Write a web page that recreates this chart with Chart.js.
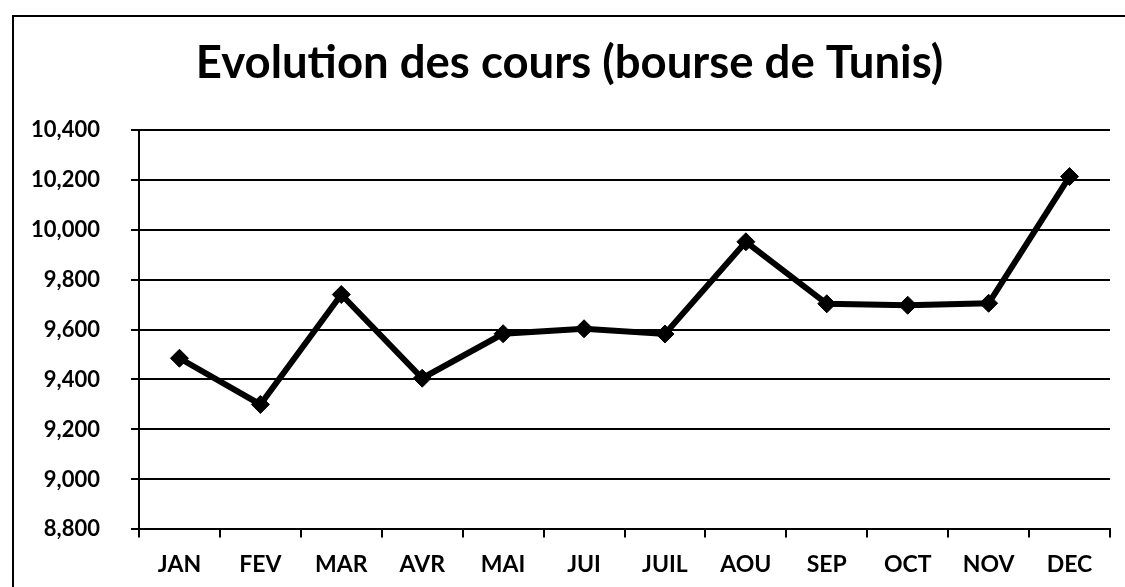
<!DOCTYPE html>
<html>
<head>
<meta charset="utf-8">
<script src="https://cdn.jsdelivr.net/npm/chart.js@4.4.0/dist/chart.umd.min.js"></script>
<style>
  html, body { margin: 0; padding: 0; background: #ffffff; }
  #wrap { position: relative; width: 1125px; height: 587px; }
</style>
</head>
<body>
<div id="wrap"><canvas id="c" width="1125" height="587"></canvas></div>
<script>
const chartTitle = "Evolution des cours (bourse de Tunis)";
const categories = ["JAN", "FEV", "MAR", "AVR", "MAI", "JUI", "JUIL", "AOU", "SEP", "OCT", "NOV", "DEC"];
const coursValues = [9485, 9300, 9740, 9405, 9583, 9603, 9582, 9951, 9703, 9697, 9705, 10212];
const yMin = 8800;
const yMax = 10400;
const yStep = 200;

const framePlugin = {
  id: 'frame',
  beforeDraw(chart) {
    const ctx = chart.ctx;
    ctx.save();
    ctx.fillStyle = '#ffffff';
    ctx.fillRect(0, 0, chart.width, chart.height);
    ctx.strokeStyle = '#000000';
    ctx.lineWidth = 2;
    ctx.strokeRect(13, 16, 1120, 600);
    ctx.restore();
  }
};

new Chart(document.getElementById('c'), {
  type: 'line',
  data: {
    labels: categories,
    datasets: [{
      label: 'Cours',
      data: coursValues,
      borderColor: '#000000',
      backgroundColor: '#000000',
      borderWidth: 6,
      pointStyle: 'rectRot',
      pointRadius: 9,
      pointBorderWidth: 1,
      pointBackgroundColor: '#000000',
      pointBorderColor: '#000000',
      tension: 0,
      fill: false
    }]
  },
  options: {
    responsive: false,
    animation: false,
    devicePixelRatio: 1,
    layout: { padding: { left: 29, right: 15, top: 0, bottom: -4 } },
    plugins: {
      legend: { display: false },
      tooltip: { enabled: false },
      title: {
        display: true,
        text: chartTitle,
        color: '#000000',
        font: { family: 'Lato', weight: 'bold', size: 45.5 },
        padding: { top: 36, bottom: 39 }
      }
    },
    scales: {
      x: {
        offset: true,
        grid: {
          offset: true,
          drawOnChartArea: false,
          drawTicks: true,
          tickLength: 8,
          color: '#000000',
          lineWidth: 2
        },
        border: { display: true, color: '#000000', width: 2 },
        ticks: {
          color: '#000000',
          font: { family: 'Lato', weight: 'bold', size: 23 },
          padding: 13,
          maxRotation: 0,
          autoSkip: false
        }
      },
      y: {
        min: yMin,
        max: yMax,
        afterFit(scale) { scale.width = 110; },
        grid: {
          color: '#000000',
          lineWidth: 2,
          drawTicks: true,
          tickLength: 8
        },
        border: { display: true, color: '#000000', width: 2 },
        ticks: {
          stepSize: yStep,
          color: '#000000',
          font: { family: 'Lato', weight: 'bold', size: 22 },
          padding: 31,
          callback: (v) => v.toLocaleString('en-US')
        }
      }
    }
  },
  plugins: [framePlugin]
});
</script>
</body>
</html>
